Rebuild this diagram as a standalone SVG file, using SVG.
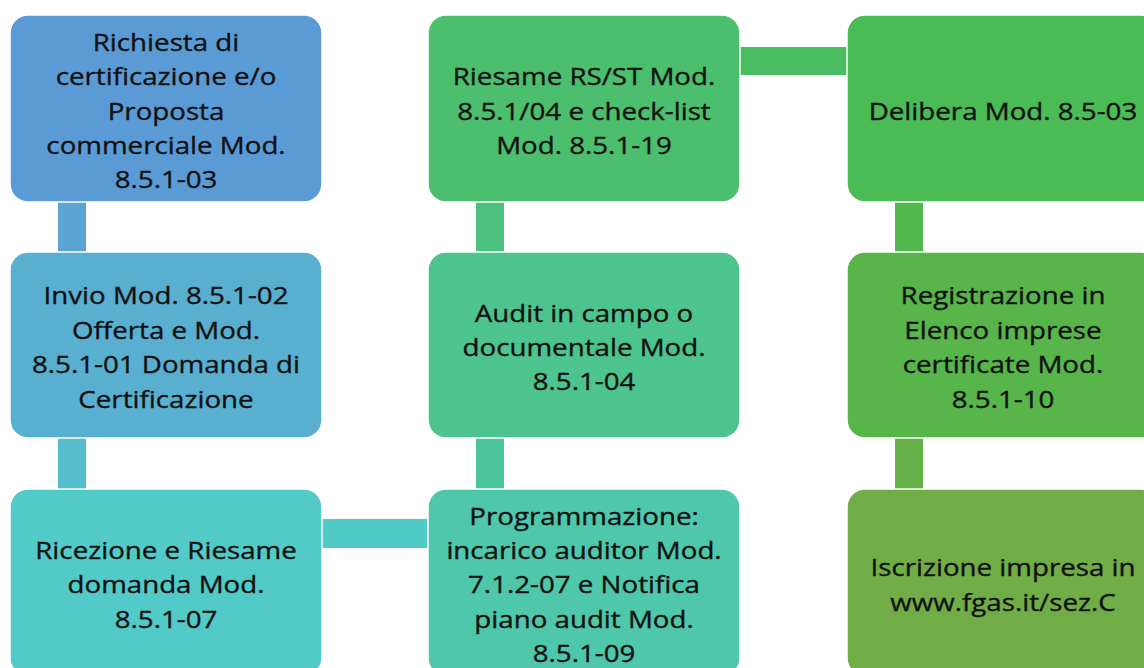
<svg xmlns="http://www.w3.org/2000/svg" width="1144" height="668" viewBox="0 0 1144 668">
<style>
.box{stroke:#ffffff;stroke-width:1.5}
.lbl{font-family:"Open Sans","Liberation Sans",sans-serif;font-size:24px;fill:#111111;stroke:#111111;stroke-width:0.35;text-anchor:middle}
</style>
<rect x="0" y="0" width="1144" height="668" fill="#ffffff"/>
<g id="connectors">
<rect x="58" y="202" width="28" height="50" fill="#5AA5D3"/>
<rect x="58" y="438" width="28" height="51" fill="#55BDCC"/>
<rect x="322" y="519" width="106" height="29" fill="#50CAC6"/>
<rect x="476" y="438" width="28" height="51" fill="#4DC59C"/>
<rect x="476" y="202" width="28" height="50" fill="#4CC17E"/>
<rect x="740" y="47" width="107" height="28" fill="#4ABD62"/>
<rect x="895" y="202" width="28" height="50" fill="#50B84F"/>
<rect x="895" y="438" width="28" height="51" fill="#66B048"/>
</g>
<g id="n1">
<rect class="box" x="10" y="15" width="312" height="187" rx="18" fill="#5B9BD5"/>
<text class="lbl" transform="translate(166 0) scale(1.155 1)"><tspan x="0" y="50.8">Richiesta di</tspan><tspan x="0" y="85.2">certificazione e/o</tspan><tspan x="0" y="119.6">Proposta</tspan><tspan x="0" y="154">commerciale Mod.</tspan><tspan x="0" y="188.4">8.5.1-03</tspan></text>
</g>
<g id="n2">
<rect class="box" x="10" y="252" width="312" height="186" rx="18" fill="#59AFD0"/>
<text class="lbl" transform="translate(166 0) scale(1.155 1)"><tspan x="0" y="304.4">Invio Mod. 8.5.1-02</tspan><tspan x="0" y="338.8">Offerta e Mod.</tspan><tspan x="0" y="373.2">8.5.1-01 Domanda di</tspan><tspan x="0" y="407.6">Certificazione</tspan></text>
</g>
<g id="n3">
<rect class="box" x="10" y="489" width="312" height="187" rx="18" fill="#52CBC8"/>
<text class="lbl" transform="translate(166 0) scale(1.155 1)"><tspan x="0" y="559.1">Ricezione e Riesame</tspan><tspan x="0" y="593.5">domanda Mod.</tspan><tspan x="0" y="627.9">8.5.1-07</tspan></text>
</g>
<g id="n4">
<rect class="box" x="428" y="489" width="312" height="187" rx="18" fill="#4EC7AA"/>
<text class="lbl" transform="translate(584 0) scale(1.155 1)"><tspan x="0" y="524.7">Programmazione:</tspan><tspan x="0" y="559.1">incarico auditor Mod.</tspan><tspan x="0" y="593.5">7.1.2-07 e Notifica</tspan><tspan x="0" y="627.9">piano audit Mod.</tspan><tspan x="0" y="662.3">8.5.1-09</tspan></text>
</g>
<g id="n5">
<rect class="box" x="428" y="252" width="312" height="186" rx="18" fill="#4DC48E"/>
<text class="lbl" transform="translate(584 0) scale(1.155 1)"><tspan x="0" y="321.6">Audit in campo o</tspan><tspan x="0" y="356">documentale Mod.</tspan><tspan x="0" y="390.4">8.5.1-04</tspan></text>
</g>
<g id="n6">
<rect class="box" x="428" y="15" width="312" height="187" rx="18" fill="#4BBF6E"/>
<text class="lbl" transform="translate(584 0) scale(1.155 1)"><tspan x="0" y="85.2">Riesame RS/ST Mod.</tspan><tspan x="0" y="119.6">8.5.1/04 e check-list</tspan><tspan x="0" y="154">Mod. 8.5.1-19</tspan></text>
</g>
<g id="n7">
<rect class="box" x="847" y="15" width="312" height="187" rx="18" fill="#4ABB55"/>
<text class="lbl" transform="translate(1003 0) scale(1.155 1)"><tspan x="0" y="119.6">Delibera Mod. 8.5-03</tspan></text>
</g>
<g id="n8">
<rect class="box" x="847" y="252" width="312" height="186" rx="18" fill="#57B54A"/>
<text class="lbl" transform="translate(1003 0) scale(1.155 1)"><tspan x="0" y="304.4">Registrazione in</tspan><tspan x="0" y="338.8">Elenco imprese</tspan><tspan x="0" y="373.2">certificate Mod.</tspan><tspan x="0" y="407.6">8.5.1-10</tspan></text>
</g>
<g id="n9">
<rect class="box" x="847" y="489" width="312" height="187" rx="18" fill="#70AD47"/>
<text class="lbl" transform="translate(1003 0) scale(1.155 1)"><tspan x="0" y="576.3">Iscrizione impresa in</tspan><tspan x="0" y="610.7">www.fgas.it/sez.C</tspan></text>
</g>
</svg>
